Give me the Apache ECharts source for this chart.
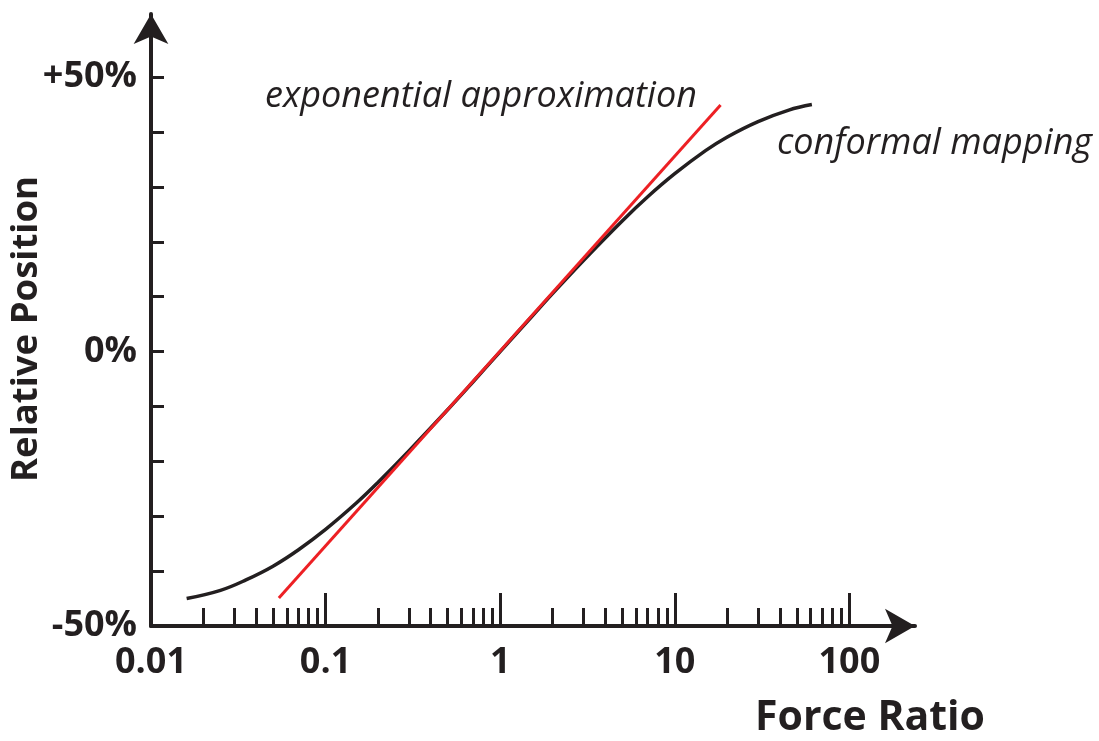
<!DOCTYPE html>
<html>
<head>
<meta charset="utf-8">
<script src="https://cdn.jsdelivr.net/npm/echarts@6/dist/echarts.min.js"></script>
<style>
  html, body { margin: 0; padding: 0; background: #fff; }
  #chart { width: 1099px; height: 741px; }
</style>
</head>
<body>
<div id="chart"></div>
<script>
// Conformal mapping curve (Force Ratio vs Relative Position %)
const conformalX = [0.016, 0.025, 0.035, 0.05, 0.07, 0.1, 0.15, 0.2, 0.3, 0.5, 0.7, 1, 1.5, 2, 3, 5, 7, 10, 15, 20, 30, 45, 61];
const conformalY = [-45.0, -43.5, -41.6, -39.1, -36.1, -32.4, -27.6, -23.8, -18.1, -10.6, -5.5, 0, 6.2, 10.6, 16.6, 23.8, 28.2, 32.4, 36.6, 39.1, 41.9, 44.0, 45.0];
// Exponential approximation (straight line on log axis)
const expX = [0.054, 18.3];
const expY = [-44.9, 44.9];
// Tick definitions
const xMajorTicks = [0.1, 1, 10, 100];
const xMinorTicks = [0.02, 0.03, 0.04, 0.05, 0.06, 0.07, 0.08, 0.09,
                     0.2, 0.3, 0.4, 0.5, 0.6, 0.7, 0.8, 0.9,
                     2, 3, 4, 5, 6, 7, 8, 9,
                     20, 30, 40, 50, 60, 70, 80, 90];
const xLabels = [0.01, 0.1, 1, 10, 100];
const yTicks = [-40, -30, -20, -10, 0, 10, 20, 30, 40, 50];
const yLabels = [-50, 0, 50];

const INK = '#231f20';
const RED = '#ed2024';
const chart = echarts.init(document.getElementById('chart'), null, { renderer: 'canvas' });

const pair = (xs, ys) => xs.map((x, i) => [x, ys[i]]);

chart.setOption({
  animation: false,
  backgroundColor: '#ffffff',
  grid: { left: 151, right: 184, top: 14, bottom: 115, containLabel: false, outerBoundsMode: 'none' },
  xAxis: [
    {
      type: 'log', logBase: 10, min: 0.01, max: 237.7, position: 'bottom',
      axisLine: { show: true, onZero: false, lineStyle: { color: INK, width: 4 }, symbol: ['none', 'arrow'], symbolSize: [26, 30] },
      axisTick: { show: true, inside: true, length: 33, lineStyle: { color: INK, width: 3 }, customValues: xMajorTicks },
      axisLabel: {
        show: true, margin: 19, customValues: xLabels,
        fontFamily: 'Open Sans', fontWeight: 'bold', fontSize: 36, color: INK,
        formatter: v => String(v)
      },
      splitLine: { show: false }, minorTick: { show: false }
    },
    {
      type: 'log', logBase: 10, min: 0.01, max: 237.7, position: 'bottom',
      axisLine: { show: false, onZero: false },
      axisTick: { show: true, inside: true, length: 18, lineStyle: { color: INK, width: 3 }, customValues: xMinorTicks },
      axisLabel: { show: false },
      splitLine: { show: false }
    }
  ],
  yAxis: {
    type: 'value', min: -50, max: 61.5,
    axisLine: { show: true, onZero: false, lineStyle: { color: INK, width: 4 }, symbol: ['none', 'arrow'], symbolSize: [26, 30] },
    axisTick: { show: true, inside: true, length: 13, lineStyle: { color: INK, width: 3 }, customValues: yTicks },
    axisLabel: {
      show: true, margin: 14, customValues: yLabels,
      fontFamily: 'Open Sans', fontWeight: 'bold', fontSize: 36, color: INK,
      formatter: v => (v > 0 ? '+' : '') + v + '%'
    },
    splitLine: { show: false }
  },
  series: [
    {
      name: 'conformal mapping', type: 'line', xAxisIndex: 0, smooth: 0.4,
      data: pair(conformalX, conformalY), showSymbol: false, symbol: 'none',
      lineStyle: { color: INK, width: 3.5 }, z: 3
    },
    {
      name: 'exponential approximation', type: 'line', xAxisIndex: 0,
      data: pair(expX, expY), showSymbol: false, symbol: 'none',
      lineStyle: { color: RED, width: 3 }, z: 4
    }
  ],
  graphic: [
    { type: 'text', x: 265, y: 97, style: { text: 'exponential approximation', font: 'italic 36px "Open Sans"', fill: INK, textAlign: 'left', textVerticalAlign: 'middle' } },
    { type: 'text', x: 777, y: 144, style: { text: 'conformal mapping', font: 'italic 36px "Open Sans"', fill: INK, textAlign: 'left', textVerticalAlign: 'middle' } },
    { type: 'text', x: 870, y: 718, style: { text: 'Force Ratio', font: 'bold 41px "Open Sans"', fill: INK, textAlign: 'center', textVerticalAlign: 'middle' } },
    { type: 'text', x: 27, y: 329, rotation: Math.PI / 2, style: { text: 'Relative Position', font: 'bold 36.5px "Open Sans"', fill: INK, textAlign: 'center', textVerticalAlign: 'middle' } }
  ]
});
</script>
</body>
</html>
